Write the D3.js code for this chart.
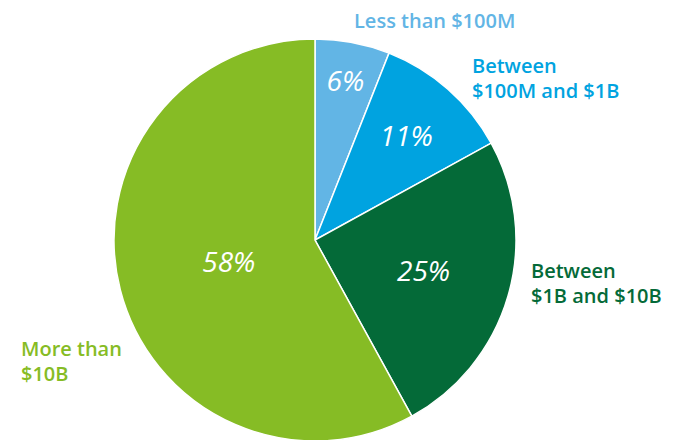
<!DOCTYPE html>
<html>
<head>
<meta charset="utf-8">
<script src="https://cdn.jsdelivr.net/npm/d3@7"></script>
<style>
  body { margin: 0; background: #fff; }
  svg { display: block; font-family: "Open Sans", sans-serif; }
</style>
</head>
<body>
<svg width="686" height="440"></svg>
<script>
const categories = ["Less than $100M", "Between $100M and $1B", "Between $1B and $10B", "More than $10B"]
const shares = [6, 11, 25, 58]
const labelLines = [["Less than $100M"], ["Between", "$100M and $1B"], ["Between", "$1B and $10B"], ["More than", "$10B"]]
const colors = ["#62b5e5", "#00a3e0", "#046a38", "#86bc25"]

// layout
const cx = 315, cy = 240, radius = 201
const pctRadius = [162, 138, 113, 89]
const labelPos = [[354, 28], [472, 73], [531, 278], [21, 356]]
const lineGap = 25

const svg = d3.select("svg")
const g = svg.append("g").attr("transform", `translate(${cx},${cy})`)

const pie = d3.pie().sort(null).value(d => d)
const arcs = pie(shares)

const arc = d3.arc().innerRadius(0).outerRadius(radius)

g.selectAll("path")
    .data(arcs)
    .enter().append("path")
    .attr("d", arc)
    .attr("fill", (d, i) => colors[i])
    .attr("stroke", "#fff")
    .attr("stroke-width", 1.5)

g.selectAll("text.pct")
    .data(arcs)
    .enter().append("text")
    .attr("class", "pct")
    .attr("transform", (d, i) => {
        const a = d3.arc().innerRadius(pctRadius[i]).outerRadius(pctRadius[i])
        return "translate(" + a.centroid(d) + ")"
    })
    .attr("text-anchor", "middle")
    .attr("dy", ".35em")
    .attr("fill", "#fff")
    .style("font-size", "28px")
    .style("font-style", "italic")
    .style("font-weight", 400)
    .text(d => d.data + "%")

labelLines.forEach((lines, i) => {
    const t = svg.append("text")
        .attr("x", labelPos[i][0])
        .attr("y", labelPos[i][1])
        .attr("fill", colors[i])
        .style("font-size", "20px")
        .style("font-weight", 600)
    lines.forEach((line, j) => {
        t.append("tspan")
            .attr("x", labelPos[i][0])
            .attr("dy", j === 0 ? 0 : lineGap)
            .text(line)
    })
})
</script>
</body>
</html>
